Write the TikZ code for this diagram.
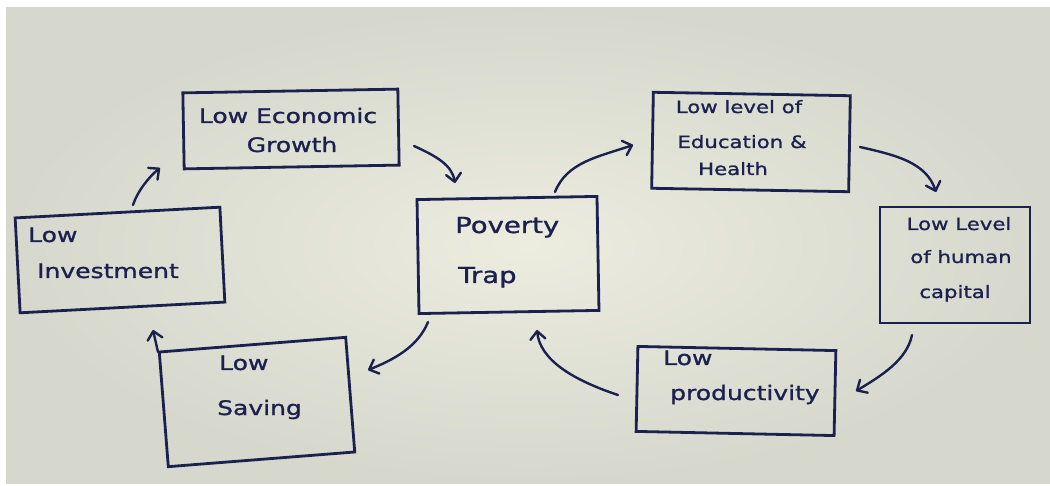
\documentclass[tikz,border=0pt]{standalone}
\usepackage{fontspec}
\newfontfamily\hand[FakeStretch=1.25,FakeBold=1.2]{DejaVu Sans}
\usetikzlibrary{arrows.meta,calc}
\definecolor{ink}{RGB}{28,32,78}
\definecolor{paperin}{RGB}{236,236,223}
\definecolor{paperout}{RGB}{214,216,205}

\begin{document}
\begin{tikzpicture}[x=1pt,y=-1pt,
  box/.style={draw=ink, line width=2.8pt, rectangle, inner sep=0pt, outer sep=0pt},
  arr/.style={draw=ink, line width=2.4pt, line cap=round,
    -{Straight Barb[length=8pt,width=15pt,round]}},
  txt/.style={text=ink, inner sep=0pt, font=\hand\fontsize{20pt}{24pt}\selectfont},
  txtsmall/.style={txt, font=\hand\fontsize{17pt}{20pt}\selectfont},
  txtlarge/.style={txt, font=\hand\fontsize{22pt}{26pt}\selectfont}]

% sheet of paper
\useasboundingbox (0,0) rectangle (1050,486);
\fill[white] (0,0) rectangle (1050,486);
\shade[inner color=paperin, outer color=paperout] (6,8) rectangle (1050,483);

% boxes
\node[box, minimum width=215pt, minimum height=76pt,  rotate=1]   (grow) at (291,129) {};
\node[box, minimum width=197pt, minimum height=96pt,  rotate=-1]  (edu)  at (751,142) {};
\node[box, minimum width=150pt, minimum height=116pt, rotate=0]   (hc)   at (955,265) {};
\node[box, minimum width=205pt, minimum height=95pt,  rotate=3]   (inv)  at (120,260) {};
\node[box, minimum width=180pt, minimum height=114pt, rotate=1]   (pov)  at (508,255) {};
\node[box, minimum width=187pt, minimum height=115pt, rotate=4.5] (sav)  at (257,402) {};
\node[box, minimum width=198pt, minimum height=85pt,  rotate=-1.2] (prod) at (736,391) {};

% labels
\node[txt, anchor=base] (grow-a) at (288,123) {Low Economic};
\node[txt, anchor=base] (grow-b) at (292,152) {Growth};

\node[txtsmall, anchor=base] (edu-a) at (739,113) {Low level of};
\node[txtsmall, anchor=base] (edu-b) at (742,148) {Education \&};
\node[txtsmall, anchor=base] (edu-c) at (733,175) {Health};

\node[txtsmall, anchor=base] (hc-a) at (959,230) {Low Level};
\node[txtsmall, anchor=base] (hc-b) at (961,263) {of human};
\node[txtsmall, anchor=base] (hc-c) at (955,298) {capital};

\node[txt, anchor=base west] (inv-a) at (28,242) {Low};
\node[txt, anchor=base west] (inv-b) at (37,278) {Investment};

\node[txtlarge, anchor=base west] (pov-a) at (455,233) {Poverty};
\node[txtlarge, anchor=base west] (pov-b) at (458,283) {Trap};

\node[txt, anchor=base west] (sav-a) at (219,370) {Low};
\node[txt, anchor=base west] (sav-b) at (217,415) {Saving};

\node[txt, anchor=base west] (prod-a) at (663,365) {Low};
\node[txt, anchor=base west] (prod-b) at (670,400) {productivity};

% the cycle of arrows
\draw[arr] ($(inv.center)+(13,-55)$) .. controls +(5,-15) and +(-10,8) .. ($(grow.center)+(-131,39)$);
\draw[arr] ($(grow.center)+(123,17)$) .. controls +(22,10) and +(-3,-18) .. ($(pov.center)+(-53,-72)$);
\draw[arr] ($(pov.center)+(47,-63)$) .. controls +(12,-30) and +(-35,12) .. ($(edu.center)+(-118,3)$);
\draw[arr] ($(edu.center)+(109,5)$) .. controls +(35,8) and +(-10,-30) .. ($(hc.center)+(-19,-73)$);
\draw[arr] ($(hc.center)+(-43,70)$) .. controls +(-5,25) and +(25,-15) .. ($(prod.center)+(120,0)$);
\draw[arr] ($(prod.center)+(-118,4)$) .. controls +(-45,-15) and +(3,30) .. ($(pov.center)+(29,75)$);
\draw[arr] ($(pov.center)+(-80,67)$) .. controls +(-10,25) and +(25,-10) .. ($(sav.center)+(111,-32)$);
\draw[arr] ($(sav.center)+(-99,-50)$) -- ($(inv.center)+(33,70)$);
\end{tikzpicture}
\end{document}
